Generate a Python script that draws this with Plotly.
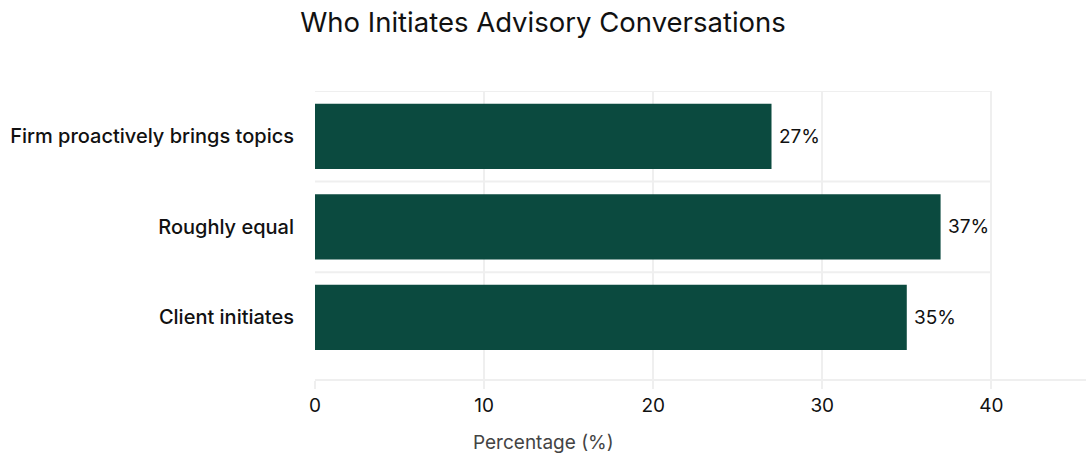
import plotly.graph_objects as go

# Survey result: who starts advisory conversations
categories = ["Client initiates", "Roughly equal", "Firm proactively brings topics"]
values = [35, 37, 27]
x_ticks = [0, 10, 20, 30, 40]

BAR_COLOR = "#0b4a3f"
GRID_COLOR = "#efefef"
FONT = "Inter"

W, H = 1086, 457
M_L, M_R, M_T, M_B = 315, 0, 91, 78
plot_w = W - M_L - M_R
plot_h = H - M_T - M_B

fig = go.Figure(
    go.Bar(
        x=values,
        y=categories,
        orientation="h",
        marker=dict(color=BAR_COLOR, line=dict(width=0)),
        hoverinfo="skip",
    )
)

# Value labels just past the end of each bar
for cat, v in zip(categories, values):
    fig.add_annotation(
        x=v, y=cat, xref="x", yref="y",
        text=f"{v}%", showarrow=False,
        xanchor="left", yanchor="middle", xshift=5,
        font=dict(family=FONT, size=19, color="#111111"),
    )

# Light row separators between the category bands, spanning the tick range
for i in range(len(categories)):
    fig.add_shape(
        type="line", xref="x", yref="y",
        x0=0, x1=x_ticks[-1], y0=i + 0.5, y1=i + 0.5,
        line=dict(color=GRID_COLOR, width=2), layer="below",
    )

# Axis title, centred under the whole figure
fig.add_annotation(
    text="Percentage (%)", showarrow=False,
    xref="paper", yref="paper",
    x=(W / 2 - M_L) / plot_w, y=-(442 - (H - M_B)) / plot_h,
    xanchor="center", yanchor="middle",
    font=dict(family=FONT, size=19, color="#444444"),
)

fig.update_layout(
    width=W,
    height=H,
    margin=dict(l=M_L, r=M_R, t=M_T, b=M_B),
    paper_bgcolor="white",
    plot_bgcolor="white",
    showlegend=False,
    bargap=0.28,
    title=dict(
        text="Who Initiates Advisory Conversations",
        x=0.5, xanchor="center", xref="container",
        y=1 - 22 / H, yanchor="middle", yref="container",
        font=dict(family=FONT, size=27.5, color="#111111"),
    ),
    xaxis=dict(
        range=[0, 45.6],
        tickvals=x_ticks,
        ticks="outside",
        ticklen=8,
        tickcolor=GRID_COLOR,
        tickwidth=2,
        tickfont=dict(family=FONT, size=19, color="#111111"),
        showgrid=True,
        gridcolor=GRID_COLOR,
        gridwidth=2,
        zeroline=False,
        showline=True,
        linecolor=GRID_COLOR,
        linewidth=2,
    ),
    yaxis=dict(
        range=[-0.68, 2.5],
        showgrid=False,
        zeroline=False,
        showline=False,
        ticks="",
        ticklabelstandoff=20,
        tickfont=dict(family=FONT, size=20, color="#111111", weight=500),
    ),
)

fig.write_html("out.html")
